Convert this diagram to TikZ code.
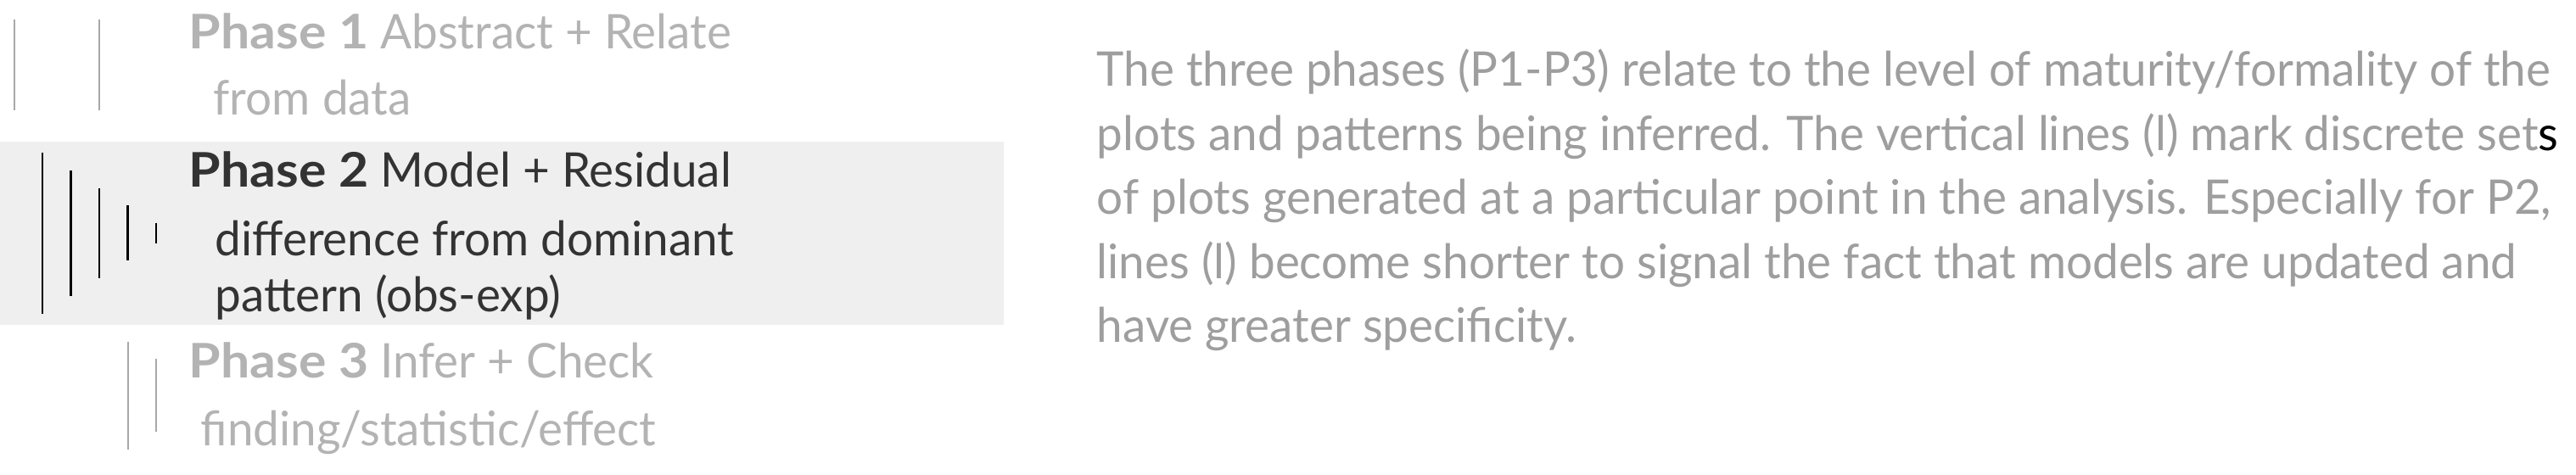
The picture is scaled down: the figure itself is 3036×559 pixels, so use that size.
\documentclass[tikz,border=0pt]{standalone}
\usepackage{fontspec}
\setmainfont{Lato}[FakeStretch=0.975]
\newfontfamily\phasebold{Lato Bold}[FakeStretch=1.08]
\newcommand{\phaselabel}[1]{{\phasebold #1}}
\definecolor{bandgray}{HTML}{EFEFEF}
\definecolor{paragray}{HTML}{9E9E9E}
\definecolor{faintgray}{HTML}{B3B3B3}
\definecolor{faintline}{HTML}{A8A8A8}
\definecolor{darkgray}{HTML}{333333}
\begin{document}
\begin{tikzpicture}[x=0.1mm,y=-0.1mm,
  txt/.style={anchor=base west, inner sep=0pt, font=\fontsize{16pt}{19pt}\selectfont},
  faint/.style={txt, text=faintgray},
  dark/.style={txt, text=darkgray},
  para/.style={txt, text=paragray},
  faintbar/.style={draw=faintline, line width=0.22mm},
  darkbar/.style={draw=black, line width=0.22mm}]
\useasboundingbox (0,0) rectangle (3036,559);
% band for phase 2
\fill[bandgray] (0,167) rectangle (1183,383);
% phase 1
\draw[faintbar] (17,23) -- (17,130);
\draw[faintbar] (117,23) -- (117,130);
\node[faint] (t1) at (222,57) {\phaselabel{Phase 1} Abstract + Relate};
\node[faint] (s1) at (251,135) {from data};
% phase 2
\draw[darkbar] (50,180) -- (50,370);
\draw[darkbar] (83.5,201) -- (83.5,349);
\draw[darkbar] (117,222) -- (117,328);
\draw[darkbar] (150.5,242) -- (150.5,307);
\draw[darkbar] (184,263) -- (184,287);
\node[dark] (t2) at (222,220) {\phaselabel{Phase 2} Model + Residual};
\node[dark] (s2a) at (253,301) {difference from dominant};
\node[dark] (s2b) at (253,367) {pattern (obs-exp)};
% phase 3
\draw[faintbar] (151,403) -- (151,530);
\draw[faintbar] (184,423) -- (184,509);
\node[faint] (t3) at (222,445) {\phaselabel{Phase 3} Infer + Check};
\node[faint] (s3) at (236,525) {finding/statistic/effect};
% paragraph
\node[para] (p1) at (1292,101) {The three phases (P1-P3) relate to the level of maturity/formality of the};
\node[para] (p2) at (1292,177) {plots and patterns being inferred. The vertical lines (l) mark discrete set{\color{black}s}};
\node[para] (p3) at (1292,252) {of plots generated at a particular point in the analysis. Especially for P2,};
\node[para] (p4) at (1292,328) {lines (l) become shorter to signal the fact that models are updated and};
\node[para] (p5) at (1292,403) {have greater specificity.};
\end{tikzpicture}
\end{document}
